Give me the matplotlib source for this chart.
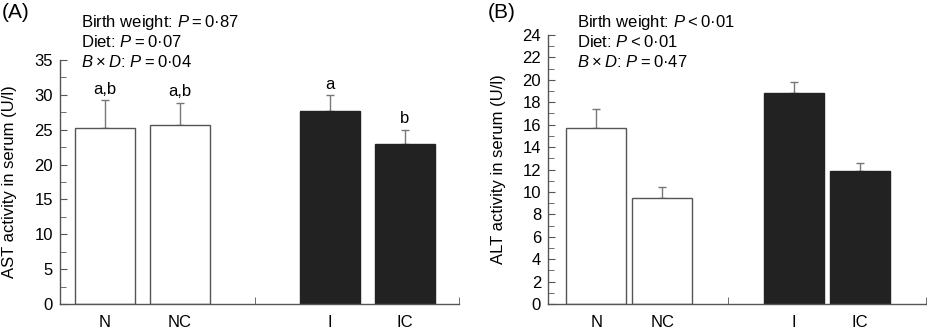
import matplotlib
matplotlib.use("Agg")
import matplotlib.pyplot as plt
from matplotlib.ticker import MultipleLocator, FixedLocator

plt.rcParams['font.family'] = ['Liberation Sans', 'DejaVu Sans']
plt.rcParams['mathtext.fontset'] = 'custom'
plt.rcParams['mathtext.rm'] = 'Liberation Sans'
plt.rcParams['mathtext.it'] = 'Liberation Sans:italic'

#####################      data      #####################
groups = ['N', 'NC', 'I', 'IC']
positions = [1, 2, 4, 5]
fills = ['white', 'white', '#222222', '#222222']

ast_mean = [25.3, 25.7, 27.7, 22.9]
ast_err = [3.9, 3.2, 2.3, 2.1]
ast_letters = ['a,b', 'a,b', 'a', 'b']
ast_stats = ['Birth weight: $P$\u2009=\u20090·87', 'Diet: $P$\u2009=\u20090·07',
             '$B$\u2009×\u2009$D$: $P$\u2009=\u20090·04']

alt_mean = [15.7, 9.5, 18.8, 11.9]
alt_err = [1.7, 0.9, 1.0, 0.7]
alt_stats = ['Birth weight: $P$\u2009<\u20090·01', 'Diet: $P$\u2009<\u20090·01',
             '$B$\u2009×\u2009$D$: $P$\u2009=\u20090·47']

axis_grey = '#555555'
W, H = 927, 329


def draw_panel(ax, means, errs, width, xlim, ymax, major, minor):
    ax.bar(positions, means, width=width, color=fills,
           edgecolor=['#555555', '#555555', '#222222', '#222222'], linewidth=1.0, zorder=2)
    ax.errorbar(positions, means, yerr=[[0] * 4, errs], fmt='none',
                ecolor='#777777', elinewidth=1.0, capsize=3, capthick=1.0, zorder=1)
    ax.set_xlim(*xlim)
    ax.set_ylim(0, ymax)
    for side in ['top', 'right']:
        ax.spines[side].set_visible(False)
    for side in ['left', 'bottom']:
        ax.spines[side].set_color(axis_grey)
        ax.spines[side].set_linewidth(1.0)
    ax.yaxis.set_major_locator(MultipleLocator(major))
    ax.yaxis.set_minor_locator(MultipleLocator(minor))
    ax.set_xticks(positions)
    ax.set_xticklabels(groups)
    ax.xaxis.set_minor_locator(FixedLocator([3, xlim[1]]))
    ax.tick_params(axis='y', which='both', direction='in', color=axis_grey, labelsize=12, pad=5)
    ax.tick_params(axis='y', which='major', length=5)
    ax.tick_params(axis='y', which='minor', length=4)
    ax.tick_params(axis='x', which='major', length=0, labelsize=12, pad=8)
    ax.tick_params(axis='x', which='minor', direction='in', length=5, color=axis_grey)


fig = plt.figure(figsize=(W / 100, H / 100), dpi=100)

# panel A: AST
ax1 = fig.add_axes([60 / W, 25 / H, 399 / W, 244 / H])
draw_panel(ax1, ast_mean, ast_err, 0.8, (0.4, 5.72), 35, 5, 2.5)
for x, m, e, t in zip(positions, ast_mean, ast_err, ast_letters):
    ax1.text(x, m + e + 0.9, t, ha='center', va='baseline', fontsize=12)

# panel B: ALT
ax2 = fig.add_axes([548 / W, 25 / H, 378 / W, 269 / H])
draw_panel(ax2, alt_mean, alt_err, 0.9, (0.27, 6.0), 24, 2, 1)

# y labels
fig.text(10 / W, (25 + 122) / H, 'AST activity in serum (U/l)', rotation=90,
         ha='center', va='center', fontsize=12)
fig.text(499 / W, (25 + 134.5) / H, 'ALT activity in serum (U/l)', rotation=90,
         ha='center', va='center', fontsize=12)

# panel letters and statistics
fig.text(2 / W, 1 - 13 / H, '(A)', fontsize=15, va='center', ha='left')
fig.text(488 / W, 1 - 13 / H, '(B)', fontsize=15, va='center', ha='left')
for i, (s1, s2) in enumerate(zip(ast_stats, alt_stats)):
    y = 1 - (22.7 + 19.5 * i) / H
    fig.text(81 / W, y, s1, fontsize=12, va='center', ha='left')
    fig.text(577 / W, y, s2, fontsize=12, va='center', ha='left')

fig.savefig('out.png', dpi=100)
